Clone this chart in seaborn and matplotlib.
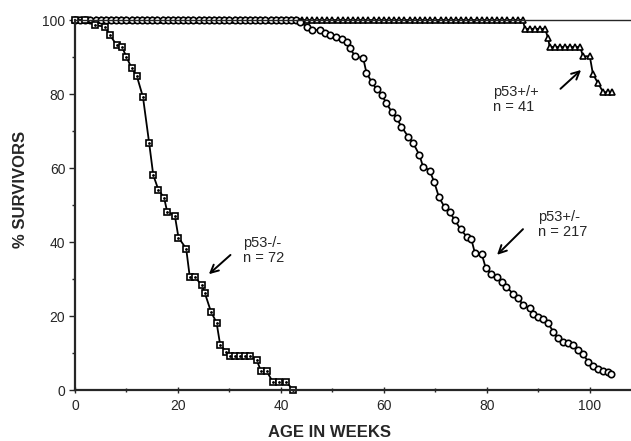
import matplotlib
matplotlib.use("Agg")
import matplotlib.pyplot as plt
import seaborn as sns
import pandas as pd

# ---- data (weeks, % survivors) ----
# p53-/- (squares), n = 72
ko_weeks = [0, 2, 3.9, 5.8, 6.8, 8.1, 9.1, 10.0, 11.0, 12.0, 13.2, 14.4, 15.2,
            16.2, 17.3, 17.9, 19.4, 20.1, 21.6, 22.3, 23.3, 24.6, 25.2, 26.4,
            27.5, 28.2, 29.3, 30.1, 31.0, 32.0, 33.0, 34.0, 35.3, 36.1, 37.2,
            38.4, 39.7, 41.0, 42.4]
ko_surv = [100, 100, 98.6, 98.2, 95.9, 93.2, 92.8, 90.0, 87.0, 84.9, 79.2, 66.8,
           58.1, 54.1, 52.0, 48.2, 47.1, 41.2, 38.2, 30.5, 30.5, 28.4, 26.3,
           21.2, 18.2, 12.2, 10.4, 9.2, 9.2, 9.2, 9.2, 9.2, 8.1, 5.2, 5.2,
           2.2, 2.2, 2.2, 0]

# p53+/- (circles), n = 217
het_weeks = [0, 1, 2, 3, 4, 5, 6, 7, 8, 9, 10, 11, 12, 13, 14, 15, 16, 17, 18,
             19, 20, 21, 22, 23, 24, 25, 26, 27, 28, 29, 30, 31, 32, 33, 34, 35,
             36, 37, 38, 39, 40, 41, 42, 43,
             43.7, 45.0, 46.0, 47.6, 48.5, 49.5, 50.7, 51.8, 52.8, 53.4, 54.4,
             56.0, 56.6, 57.6, 58.6, 59.6, 60.5, 61.5, 62.5, 63.4, 64.7, 65.7,
             66.9, 67.6, 68.9, 69.8, 70.7, 71.8, 72.8, 73.8, 74.9, 76.2, 77.0,
             77.7, 79.0, 79.8, 80.9, 81.9, 82.9, 83.8, 85.1, 86.1, 87.0, 88.3,
             89.0, 90.0, 91.0, 91.9, 92.9, 93.8, 94.8, 95.8, 96.8, 97.7, 98.7,
             99.7, 100.6, 101.6, 102.6, 103.6, 104.2]
het_surv = [100] * 44 + [
    99.5, 98.2, 97.3, 97.3, 96.4, 95.9, 95.5, 95.0, 94.1, 92.3, 90.3,
    89.6, 85.8, 83.3, 81.3, 79.7, 77.5, 75.2, 73.4, 71.2, 68.5, 66.7,
    63.5, 60.4, 59.3, 56.1, 52.1, 49.4, 48.0, 45.9, 43.4, 41.3, 40.7,
    36.9, 36.8, 32.9, 31.4, 30.6, 29.3, 27.9, 26.0, 24.9, 23.0, 22.1,
    20.5, 19.8, 19.1, 18.0, 15.8, 14.0, 13.1, 12.6, 12.2, 10.8, 9.7,
    7.6, 6.5, 5.6, 5.2, 4.9, 4.3]

# p53+/+ (triangles), n = 41
wt_weeks = [0, 1, 2, 3, 4, 5, 6, 7, 8, 9, 10, 11, 12, 13, 14, 15, 16, 17, 18,
            19, 20, 21, 22, 23, 24, 25, 26, 27, 28, 29, 30, 31, 32, 33, 34, 35,
            36, 37, 38, 39, 40, 41, 42, 43, 44, 45, 46, 47, 48, 49, 50, 51, 52,
            53, 54, 55, 56, 57, 58, 59, 60, 61, 62, 63, 64, 65, 66, 67, 68, 69,
            70, 71, 72, 73, 74, 75, 76, 77, 78, 79, 80, 81, 82, 83, 84, 85, 86,
            87,
            87.4, 88.4, 89.4, 90.3, 91.3, 91.9, 92.2, 93.2, 94.2, 95.2, 96.2,
            97.2, 98.1, 98.7, 100.0, 100.6, 101.6, 102.6, 103.6, 104.4]
wt_surv = [100] * 88 + [
    97.6, 97.6, 97.6, 97.6, 97.6, 95.1, 92.7, 92.7, 92.7, 92.7, 92.7,
    92.7, 92.7, 90.2, 90.2, 85.4, 82.9, 80.5, 80.5, 80.5]

x_ticks = [0, 20, 40, 60, 80, 100]
y_ticks = [0, 20, 40, 60, 80, 100]

sns.set_style("ticks")
plt.rcParams["font.family"] = ["Liberation Sans", "DejaVu Sans"]

fig = plt.figure(figsize=(6.31, 4.41), dpi=100)
ax = fig.add_axes([75 / 631, 1 - 390 / 441, 556 / 631, 370 / 441])

ko = pd.DataFrame({"week": ko_weeks, "surv": ko_surv})
het = pd.DataFrame({"week": het_weeks, "surv": het_surv})
wt = pd.DataFrame({"week": wt_weeks, "surv": wt_surv})

common = dict(estimator=None, sort=False, color="black", linewidth=1.3,
              markerfacecolor="white", markeredgecolor="black",
              markeredgewidth=1.2, clip_on=False, ax=ax)
sns.lineplot(data=wt, x="week", y="surv", marker="^", markersize=5.0, **common)
sns.lineplot(data=het, x="week", y="surv", marker="o", markersize=4.6, **common)
sns.lineplot(data=ko, x="week", y="surv", marker="s", markersize=4.3, **common)
# small dot inside the squares
ax.plot(ko_weeks[2:], ko_surv[2:], ls="none", marker=".", ms=2, color="black",
        clip_on=False)

ax.set_xlim(0, 108)
ax.set_ylim(0, 100)
ax.set_xticks(x_ticks)
ax.set_yticks(y_ticks)
ax.set_xticks([10, 30, 50, 70, 90], minor=True)
ax.set_yticks([10, 30, 50, 70, 90], minor=True)
ax.tick_params(axis="x", which="both", direction="inout", length=5, width=1,
               labelsize=10, pad=4)
ax.tick_params(axis="x", which="minor", length=3)
ax.tick_params(axis="y", which="both", direction="out", length=4, width=1,
               labelsize=10, pad=3)
ax.tick_params(axis="y", which="minor", length=2.5)

for side in ["left", "bottom"]:
    ax.spines[side].set_linewidth(1.6)
ax.spines["top"].set_linewidth(1.0)
ax.spines["right"].set_visible(False)

ax.set_xlabel("AGE IN WEEKS", fontsize=12, fontweight="bold")
ax.set_ylabel("% SURVIVORS", fontsize=12, fontweight="bold")
ax.xaxis.set_label_coords(0.457, -0.095)
ax.yaxis.set_label_coords(-0.085, 0.543)

arrow = dict(arrowstyle="->", lw=1.4, color="black", mutation_scale=14)
ax.text(32.6, 37.7, "p53-/-\nn = 72", fontsize=10.5, ha="left", va="center",
        linespacing=1.05)
ax.annotate("", xy=(25.6, 30.8), xytext=(30.6, 37.0), arrowprops=arrow)

ax.text(89.9, 44.8, "p53+/-\nn = 217", fontsize=10.5, ha="left", va="center",
        linespacing=1.05)
ax.annotate("", xy=(81.6, 36.0), xytext=(87.4, 44.0), arrowprops=arrow)

ax.text(81.2, 78.4, "p53+/+\nn = 41", fontsize=10.5, ha="left", va="center",
        linespacing=1.1)
ax.annotate("", xy=(98.7, 87.0), xytext=(93.9, 80.9), arrowprops=arrow)

fig.savefig("out.png", dpi=100)
